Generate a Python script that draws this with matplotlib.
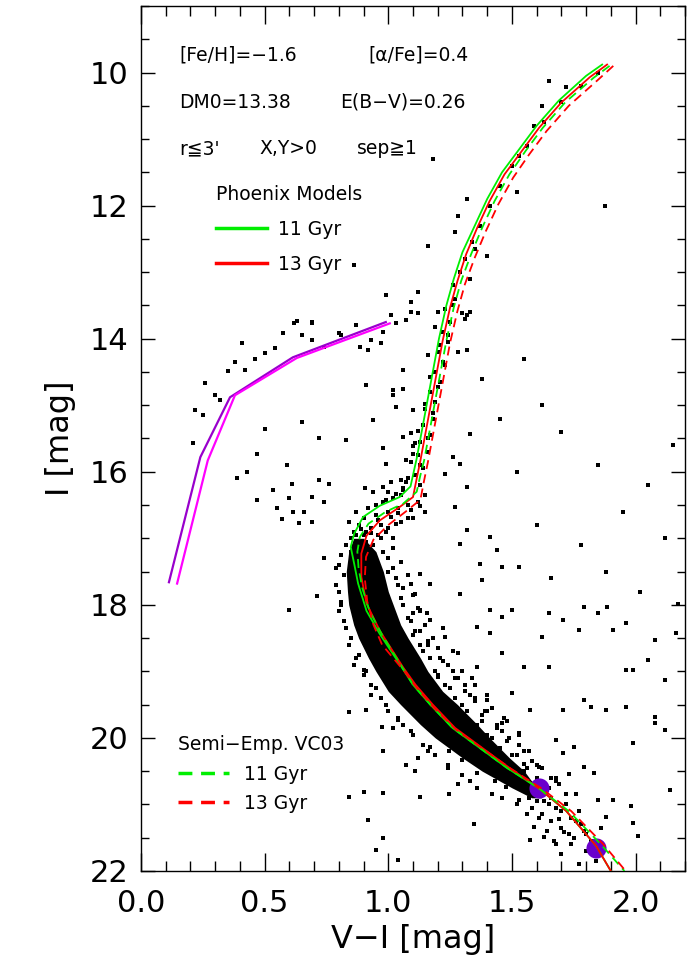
import matplotlib
matplotlib.use("Agg")
import matplotlib.pyplot as plt
from matplotlib.ticker import MultipleLocator

# ---------------- isochrones (V-I colour, I magnitude) ----------------
phx11_col = [1.865, 1.80, 1.69, 1.60, 1.53, 1.46, 1.40, 1.35, 1.30, 1.265, 1.235, 1.205, 1.18, 1.16, 1.135,
             1.115, 1.10, 1.09, 1.046, 0.966, 0.898, 0.862, 0.848, 0.862, 0.878, 0.912, 0.966, 1.046, 1.10,
             1.17, 1.26, 1.37, 1.48, 1.61, 1.72, 1.84, 1.90]
phx11_mag = [9.88, 10.05, 10.42, 10.8, 11.15, 11.5, 11.9, 12.3, 12.7, 13.1, 13.5, 14.0, 14.5, 14.9, 15.4,
             15.8, 16.05, 16.22, 16.38, 16.51, 16.68, 16.93, 17.13, 17.38, 17.68, 18.09, 18.44, 18.89, 19.2,
             19.5, 19.85, 20.15, 20.45, 20.76, 21.1, 21.62, 22.0]

phx13_col = [1.885, 1.815, 1.70, 1.61, 1.54, 1.47, 1.41, 1.36, 1.315, 1.28, 1.25, 1.22, 1.195, 1.175, 1.15,
             1.13, 1.115, 1.10, 1.046, 0.966, 0.912, 0.891, 0.891, 0.912, 0.966, 1.06, 1.11, 1.18,
             1.27, 1.38, 1.49, 1.61, 1.72, 1.84, 1.90]
phx13_mag = [9.88, 10.07, 10.45, 10.83, 11.18, 11.53, 11.93, 12.33, 12.73, 13.13, 13.53, 14.03, 14.53, 14.93, 15.43,
             15.83, 16.1, 16.38, 16.53, 16.73, 16.96, 17.23, 17.58, 17.98, 18.39, 18.94, 19.2, 19.5,
             19.85, 20.15, 20.45, 20.76, 21.1, 21.62, 22.0]

vc11_col = [1.895, 1.83, 1.715, 1.625, 1.555, 1.49, 1.43, 1.38, 1.335, 1.295, 1.265, 1.235, 1.21, 1.19, 1.165,
            1.145, 1.13, 1.115, 1.06, 0.99, 0.92, 0.885, 0.875, 0.88, 0.895, 0.925, 0.975, 1.05, 1.10,
            1.17, 1.26, 1.37, 1.48, 1.61, 1.73, 1.86, 1.955]
vc11_mag = [9.9, 10.08, 10.45, 10.83, 11.18, 11.53, 11.93, 12.33, 12.73, 13.13, 13.53, 14.03, 14.53, 14.93, 15.43,
            15.83, 16.05, 16.3, 16.48, 16.6, 16.78, 16.98, 17.2, 17.45, 17.75, 18.1, 18.45, 18.9, 19.2,
            19.5, 19.85, 20.15, 20.45, 20.76, 21.1, 21.6, 22.0]

vc13_col = [1.91, 1.845, 1.73, 1.64, 1.57, 1.505, 1.445, 1.395, 1.35, 1.31, 1.28, 1.25, 1.225, 1.205, 1.18,
            1.16, 1.145, 1.13, 1.07, 1.00, 0.94, 0.91, 0.905, 0.915, 0.94, 0.975, 1.065, 1.115, 1.185,
            1.275, 1.385, 1.495, 1.62, 1.74, 1.87, 1.96]
vc13_mag = [9.9, 10.12, 10.5, 10.88, 11.23, 11.58, 11.98, 12.38, 12.78, 13.18, 13.58, 14.06, 14.56, 14.96, 15.46,
            15.86, 16.13, 16.42, 16.6, 16.8, 17.02, 17.28, 17.6, 17.95, 18.3, 18.6, 19.0, 19.25, 19.55,
            19.88, 20.17, 20.46, 20.76, 21.1, 21.6, 22.0]

# horizontal branch models
hb1_col = [0.113, 0.24, 0.36, 0.614, 0.99]
hb1_mag = [17.66, 15.78, 14.88, 14.28, 13.75]
hb2_col = [0.146, 0.27, 0.38, 0.63, 1.006]
hb2_mag = [17.68, 15.83, 14.85, 14.29, 13.77]

# mass points on the lower main sequence
mass_col = [1.61, 1.84]
mass_mag = [20.76, 21.65]

# crowded main sequence (edges of the region where the stars merge)
core_mag = [17.0, 17.2, 17.5, 17.8, 18.0, 18.3, 18.5, 18.8, 19.0, 19.3, 19.5, 19.8, 20.0, 20.3, 20.5, 20.75, 20.9]
core_left = [0.86, 0.84, 0.83, 0.835, 0.84, 0.86, 0.88, 0.92, 0.95, 1.00, 1.05, 1.13, 1.19, 1.30, 1.38, 1.50, 1.58]
core_right = [0.90, 0.95, 0.98, 1.00, 1.02, 1.05, 1.08, 1.13, 1.16, 1.22, 1.28, 1.36, 1.41, 1.49, 1.55, 1.60, 1.62]

# individual stars
star_col = [
    # horizontal branch / AGB region
    0.62, 0.69, 0.575, 0.65, 0.41, 0.50, 0.54, 0.46, 0.38, 0.35, 0.42, 0.26, 0.30, 0.32, 0.22, 0.25, 0.21,
    0.80, 0.885, 0.92, 0.97, 0.98, 1.01, 0.87, 0.93, 0.81, 0.69, 0.74, 0.50, 0.65, 0.47, 0.43, 0.39, 0.59,
    0.535, 0.61, 0.72, 0.76, 0.47, 0.55, 0.60, 0.69, 0.66, 0.74, 0.57, 0.615, 0.64, 0.69, 0.74, 0.71, 0.60,
    0.72, 0.83, 0.63, 0.69,
    # around the RGB / SGB
    0.91, 0.94, 1.02, 1.06, 1.03, 1.06, 0.98, 0.99, 0.905, 0.94, 0.98, 1.01, 1.05, 1.03, 0.99, 1.07, 1.03,
    1.09, 1.12, 1.06, 1.02, 1.10, 1.09, 1.11, 1.10, 1.07, 1.28, 1.32, 1.30, 1.32,
    0.92, 0.95, 0.98, 1.02, 1.05, 0.90, 0.88, 0.86, 0.85, 0.95, 1.00, 1.04, 0.93, 0.97, 1.08, 0.90, 0.84,
    0.87, 1.00, 1.06, 1.12, 1.15, 0.96, 1.01, 1.04, 1.09, 1.13, 0.89, 0.93, 0.99, 1.03, 1.08, 0.91, 0.97,
    0.83, 0.87, 0.91, 0.96, 1.00, 1.05, 1.10, 1.15, 0.94, 0.98, 1.02, 0.85,
    1.08, 1.11, 1.14, 1.09, 1.12, 1.16, 1.13, 1.17, 1.14, 1.18, 1.15, 1.19, 1.17, 1.21, 1.19, 1.22, 1.20,
    1.24, 1.22, 1.25, 1.23, 1.27, 1.26, 1.29, 1.31, 1.34, 1.37, 1.41, 1.45, 1.50, 1.56, 1.63, 1.70, 1.78, 1.85,
    1.07, 1.13, 1.10, 1.16, 1.12, 1.18, 1.15, 1.20, 1.17, 1.23, 1.16, 1.21, 1.24, 1.19, 1.26, 1.13, 1.06,
    # upper RGB neighbourhood
    1.65, 1.72, 1.62, 1.59, 1.53, 1.52, 1.875, 1.32, 1.28, 1.27, 1.16, 1.40, 1.33, 1.35, 1.18, 1.12, 1.09,
    0.99, 1.20, 1.33, 1.31, 0.86,
    # field stars right of the RGB
    1.33, 1.26, 1.29, 1.23, 1.32, 1.27, 1.32, 1.29, 1.41, 1.44, 1.46, 1.37, 1.38, 1.29, 1.41, 1.46, 1.50,
    1.53, 1.17, 1.13, 1.09, 1.11, 1.10, 1.155, 1.55, 1.62, 1.70, 1.85, 2.05, 1.95, 2.12, 1.78, 1.60, 1.66,
    1.88, 2.02, 1.52, 1.45, 1.38, 2.15,
    # field stars around the lower main sequence
    1.79, 1.885, 1.705, 1.77, 2.08, 2.165, 1.96, 2.05, 2.12, 1.91, 1.82, 1.88, 2.08, 2.08, 2.12, 1.62, 1.65,
    1.55, 1.46, 1.41, 1.36, 1.50, 1.575, 1.705, 1.68, 1.75, 1.79, 1.83, 1.91, 1.98, 1.99, 2.01, 2.14, 1.68,
    1.73, 1.76, 1.85, 1.88, 1.59, 1.63, 1.68, 1.575, 1.73, 1.36, 1.28, 1.23, 1.17, 1.13, 1.07, 1.17, 1.20,
    1.40, 1.46, 1.53, 1.36, 1.43, 1.475, 1.53, 1.56, 1.30, 1.245, 1.17, 1.07, 1.11, 0.98, 0.976, 0.91, 0.90,
    0.84, 1.10, 1.04, 0.84, 0.90, 0.92, 0.98, 0.95, 1.04, 0.98, 0.60, 1.13, 1.245, 1.345, 1.55, 1.61, 2.17,
    1.96, 1.99, 1.65, 1.85, 1.79, 1.96, 1.99, 1.705,
    # outskirts of the crowded main sequence
    0.80, 0.79, 0.81, 0.82, 0.85, 0.88, 0.91, 0.95, 0.99, 1.04, 1.10, 1.16, 1.24, 1.33, 1.42, 0.82, 0.80,
    0.86, 0.93, 1.02, 1.12, 1.28,
    1.00, 1.03, 1.05, 1.08, 1.10, 1.14, 1.19, 1.25, 1.30, 1.38, 1.42, 1.50, 1.55, 1.63, 1.66, 1.02, 1.06,
    1.12, 1.16, 1.22, 1.28, 1.33, 1.40, 1.46, 1.53, 1.58, 1.68, 1.72,
    1.60, 1.65, 1.70, 1.62, 1.74, 1.78, 1.70, 1.80, 1.75, 1.82, 1.66, 1.58, 1.72, 1.77, 1.86,
    1.13, 1.16, 1.21, 1.26, 1.31, 1.35, 1.39, 1.44, 1.49, 1.55, 1.60, 1.66, 1.34, 1.40, 1.47,
    1.02, 1.05, 1.00, 1.08, 1.04, 1.10, 1.06, 1.13, 1.09, 1.15, 1.11, 1.18, 1.13, 1.20, 1.17, 1.24, 1.20,
    1.27, 1.23, 1.31, 1.27, 1.35, 1.32, 1.38, 1.36, 1.44, 1.40, 1.48, 1.45, 1.52, 1.49, 1.56, 1.53, 1.60,
    1.58, 1.65, 1.22, 1.26, 1.30, 1.35, 1.42, 1.48, 1.53, 1.57, 1.62, 1.69,
    0.81, 0.79, 0.80, 0.81, 0.83, 0.84, 0.87, 0.90, 0.93, 0.97, 1.00, 1.06, 1.09, 1.14, 1.19, 1.24, 1.30,
    1.36, 1.46, 1.52,
    1.57, 1.63, 1.68, 1.61, 1.69, 1.76, 1.64, 1.71, 1.79, 1.67, 1.74, 1.80, 1.70, 1.84, 1.77,
]
star_mag = [
    13.76, 13.77, 13.92, 13.95, 14.07, 14.22, 14.14, 14.3, 14.35, 14.48, 14.47, 14.67, 14.85, 14.92, 15.07, 15.15, 15.57,
    13.92, 14.12, 14.17, 14.07, 13.9, 13.65, 13.8, 14.02, 13.95, 14.02, 14.12, 15.35, 15.25, 15.73, 16.0, 16.1, 15.9,
    16.27, 16.18, 16.13, 16.18, 16.43, 16.54, 16.4, 16.38, 16.6, 16.45, 16.71, 16.6, 16.77, 16.75, 17.29, 17.86, 18.08,
    15.5, 15.53, 13.74, 13.75,
    14.7, 15.22, 14.77, 14.47, 15.02, 15.47, 15.65, 15.88, 16.25, 16.3, 16.23, 16.15, 16.13, 16.33, 16.43, 13.72, 13.77,
    13.6, 13.62, 14.75, 14.85, 15.07, 15.42, 15.57, 15.73, 15.83, 14.2, 14.17, 13.62, 13.65,
    16.55, 16.5, 16.45, 16.4, 16.35, 16.7, 16.8, 16.9, 17.0, 16.65, 16.6, 16.55, 16.85, 16.8, 16.5, 16.95, 16.75,
    16.6, 16.3, 16.25, 16.45, 16.35, 16.72, 16.68, 16.62, 16.58, 16.52, 16.86, 16.92, 16.9, 16.78, 16.7, 17.05, 17.0,
    17.1, 16.95, 16.9, 16.95, 16.85, 16.75, 16.7, 16.6, 17.1, 17.2, 17.0, 17.2,
    16.1, 16.05, 15.95, 15.85, 15.75, 15.7, 15.55, 15.45, 15.3, 15.2, 15.05, 14.95, 14.8, 14.65, 14.5, 14.35, 14.2,
    14.05, 13.9, 13.75, 13.55, 13.4, 13.2, 13.0, 12.8, 12.55, 12.3, 12.0, 11.7, 11.4, 11.1, 10.75, 10.45, 10.2, 10.0,
    16.15, 15.9, 15.62, 15.5, 15.38, 15.12, 14.98, 14.72, 14.58, 14.4, 14.25, 14.1, 13.95, 13.82, 13.5, 16.2, 16.28,
    10.13, 10.22, 10.5, 10.8, 11.25, 11.8, 12.0, 11.9, 12.15, 12.4, 12.6, 12.75, 13.1, 12.65, 11.3, 13.3, 13.45,
    13.35, 13.6, 13.6, 13.7, 12.9,
    15.43, 15.78, 15.88, 16.03, 16.23, 16.53, 16.88, 17.08, 16.98, 17.18, 17.43, 17.38, 17.63, 17.83, 18.08, 18.18, 18.08,
    17.43, 17.68, 17.53, 17.68, 17.83, 18.13, 18.13, 14.3, 15.0, 15.4, 15.9, 16.2, 16.6, 17.0, 17.1, 16.8, 17.6,
    17.5, 17.8, 16.0, 15.2, 14.6, 15.6,
    18.03, 18.03, 18.23, 18.38, 18.53, 18.43, 18.98, 18.83, 19.13, 18.38, 19.53, 19.58, 19.78, 19.68, 19.88, 18.48, 18.93,
    18.93, 18.73, 18.43, 18.33, 19.33, 19.58, 19.58, 20.03, 20.13, 20.43, 20.53, 20.93, 21.03, 21.28, 21.48, 20.79, 20.64,
    20.54, 20.84, 20.93, 21.19, 21.34, 21.49, 21.59, 21.54, 21.44, 18.93, 18.73, 18.48, 18.23, 18.08, 19.13, 19.38, 19.08,
    19.43, 19.78, 19.93, 20.53, 20.64, 20.74, 20.93, 21.14, 20.33, 20.19, 20.13, 20.41, 20.49, 20.19, 19.83, 19.58, 18.98,
    19.61, 19.58, 19.73, 20.89, 20.81, 21.24, 21.51, 21.69, 21.84, 20.83, 18.08, 20.89, 20.84, 21.29, 20.39, 20.44, 17.98,
    18.28, 18.98, 18.13, 18.13, 19.43, 19.53, 20.08, 20.23,
    17.4, 17.7, 17.95, 18.25, 18.5, 18.75, 19.0, 19.25, 19.5, 19.7, 19.95, 20.2, 20.45, 20.65, 20.85, 17.55, 18.1,
    18.9, 19.35, 19.85, 20.3, 20.7,
    17.3, 17.6, 17.9, 18.2, 18.45, 18.7, 19.0, 19.25, 19.5, 19.75, 20.0, 20.25, 20.5, 20.7, 20.9, 17.45, 17.75,
    18.05, 18.55, 18.85, 19.1, 19.35, 19.6, 19.9, 20.1, 20.35, 20.6, 20.85,
    20.95, 21.0, 21.1, 21.15, 21.2, 21.3, 21.35, 21.45, 21.5, 21.55, 21.25, 21.05, 21.0, 21.1, 21.35,
    18.4, 18.6, 18.8, 19.0, 19.2, 19.4, 19.6, 19.8, 20.0, 20.2, 20.4, 20.6, 19.1, 19.35, 19.7,
    17.15, 17.35, 17.5, 17.55, 17.7, 17.85, 18.0, 18.1, 18.25, 18.3, 18.4, 18.5, 18.6, 18.65, 18.8, 18.9, 19.05,
    19.1, 19.2, 19.3, 19.4, 19.45, 19.6, 19.65, 19.8, 19.85, 19.95, 20.05, 20.15, 20.25, 20.35, 20.45, 20.55, 20.6,
    20.7, 20.75, 18.35, 18.7, 19.0, 19.2, 19.55, 19.75, 19.95, 20.2, 20.45, 20.7,
    17.25, 17.45, 17.8, 18.0, 18.35, 18.6, 18.8, 19.05, 19.2, 19.4, 19.6, 19.8, 19.9, 20.1, 20.25, 20.4, 20.55,
    20.75, 20.9, 21.0,
    20.9, 20.95, 21.05, 21.2, 21.22, 21.25, 21.4, 21.42, 21.4, 21.55, 21.6, 21.7, 21.75, 21.85, 21.9,
]

plt.rcParams['font.family'] = ['DejaVu Sans', 'Noto Sans CJK JP']

fig = plt.figure(figsize=(6.87, 9.71), dpi=100)
ax = fig.add_axes([141 / 687, 100 / 971, 544 / 687, 865 / 971])

# stars
ax.fill_betweenx(core_mag, core_left, core_right, color='black', lw=0, zorder=1)
ax.scatter(star_col, star_mag, s=5, marker='s', color='black', linewidths=0, zorder=1)

# mass points
ax.scatter(mass_col, mass_mag, s=210, color='#6a00cc', linewidths=0, zorder=2)

# horizontal branch
ax.plot(hb1_col, hb1_mag, color='#9900cc', lw=1.6, zorder=3)
ax.plot(hb2_col, hb2_mag, color='#ff00ff', lw=1.6, zorder=3)

# isochrones
l11, = ax.plot(phx11_col, phx11_mag, color='#00ee00', lw=1.3, zorder=3, label='11 Gyr')
l13, = ax.plot(phx13_col, phx13_mag, color='#ff0000', lw=1.3, zorder=3, label='13 Gyr')
d11, = ax.plot(vc11_col, vc11_mag, color='#00ee00', lw=1.3, ls=(0, (5, 3)), zorder=3, label='11 Gyr')
d13, = ax.plot(vc13_col, vc13_mag, color='#ff0000', lw=1.3, ls=(0, (5, 3)), zorder=3, label='13 Gyr')

# legends
leg1 = ax.legend(handles=[l11, l13], title='Phoenix Models', loc='upper left', bbox_to_anchor=(0.138, 0.793),
                 frameon=False, fontsize=13.5, title_fontsize=13.5, handlelength=2.7, handletextpad=0.6,
                 labelspacing=0.85, borderpad=0, borderaxespad=0, alignment='left')
for h in leg1.legend_handles:
    h.set_linewidth(2.5)
ax.add_artist(leg1)
leg2 = ax.legend(handles=[d11, d13], title='Semi\u2212Emp. VC03', loc='upper left', bbox_to_anchor=(0.068, 0.157),
                 frameon=False, fontsize=13.5, title_fontsize=13.5, handlelength=2.7, handletextpad=0.8,
                 labelspacing=0.55, borderpad=0, borderaxespad=0, alignment='left')
for h in leg2.legend_handles:
    h.set_linewidth(2.5)
    h.set_linestyle((0, (4, 2.5)))

# parameter text
txt = dict(transform=ax.transAxes, fontsize=13.5, va='center', ha='left')
ax.text(0.070, 0.943, '[Fe/H]=\u22121.6', **txt)
ax.text(0.418, 0.943, '[\u03b1/Fe]=0.4', **txt)
ax.text(0.070, 0.889, 'DM0=13.38', **txt)
ax.text(0.366, 0.889, 'E(B\u2212V)=0.26', **txt)
ax.text(0.070, 0.835, 'r\u22663\'', **txt)
ax.text(0.217, 0.835, 'X,Y>0', **txt)
ax.text(0.397, 0.835, 'sep\u22671', **txt)

# axes
ax.set_xlim(0.0, 2.2)
ax.set_ylim(22, 9)
ax.xaxis.set_major_locator(MultipleLocator(0.5))
ax.xaxis.set_minor_locator(MultipleLocator(0.1))
ax.yaxis.set_major_locator(MultipleLocator(2))
ax.yaxis.set_minor_locator(MultipleLocator(0.5))
ax.xaxis.set_major_formatter(plt.FuncFormatter(lambda v, p: '%.1f' % v))
ax.tick_params(which='both', direction='in', top=True, right=True, labelsize=22, width=1.0, color='black')
ax.tick_params(axis='x', which='major', length=13, pad=13)
ax.tick_params(axis='x', which='minor', length=7)
ax.tick_params(axis='y', which='major', length=10, pad=9)
ax.tick_params(axis='y', which='minor', length=6)
for s in ax.spines.values():
    s.set_linewidth(1.0)
ax.set_xlabel('V\u2212I [mag]', fontsize=23, labelpad=4)
ax.set_ylabel('I [mag]', fontsize=23, labelpad=10)

fig.savefig('out.png', dpi=100)
